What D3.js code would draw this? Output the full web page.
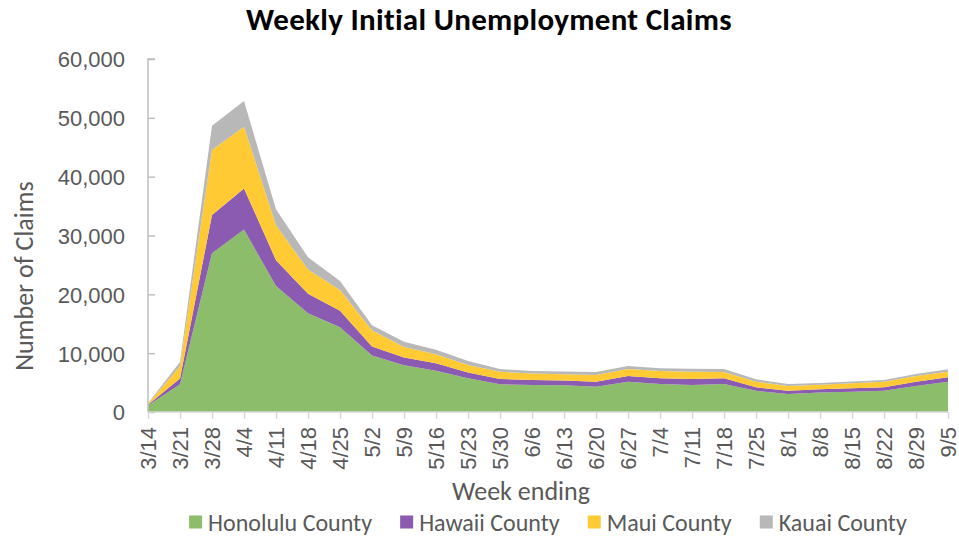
<!DOCTYPE html>
<html lang="en">
<head>
<meta charset="utf-8">
<title>Weekly Initial Unemployment Claims</title>
<script src="https://cdn.jsdelivr.net/npm/d3@7"></script>
<style>
  body { margin: 0; background: #fff; }
  svg { display: block; font-family: Carlito, Calibri, Lato, sans-serif; }
</style>
</head>
<body>
<svg id="chart" width="959" height="536"></svg>
<script>
// week ending dates (category axis)
var weeks = ["3/14","3/21","3/28","4/4","4/11","4/18","4/25","5/2","5/9","5/16","5/23","5/30",
  "6/6","6/13","6/20","6/27","7/4","7/11","7/18","7/25","8/1","8/8","8/15","8/22","8/29","9/5"];

// claims per county
var honolulu = [1100, 4700, 27000, 31000, 21400, 16800, 14400, 9600, 7950, 7000, 5750, 4700,
  4600, 4550, 4300, 5150, 4750, 4600, 4750, 3600, 3050, 3300, 3450, 3600, 4400, 5150];
var hawaii = [120, 1000, 6500, 7000, 4400, 3300, 2800, 1550, 1300, 1300, 950, 900,
  850, 800, 850, 950, 970, 1000, 980, 600, 550, 550, 570, 600, 750, 750];
var maui = [150, 2100, 11050, 10500, 5950, 4100, 3550, 2750, 1800, 1530, 1300, 1250,
  1080, 1080, 1130, 1200, 1250, 1250, 1070, 950, 800, 800, 850, 950, 950, 950];
var kauai = [100, 700, 4100, 4350, 2700, 2100, 1500, 850, 900, 730, 680, 450,
  450, 450, 500, 500, 460, 500, 500, 400, 350, 300, 300, 300, 350, 400];

var countyNames = ["Honolulu County", "Hawaii County", "Maui County", "Kauai County"];
var countyColors = ["#8cbd6a", "#8b5bb1", "#ffca33", "#b8b8b8"];
var yTicks = [0, 10000, 20000, 30000, 40000, 50000, 60000];

var svg = d3.select("#chart");
var textGrey = "#595959";

// build rows for the stack
var keys = ["honolulu", "hawaii", "maui", "kauai"];
var rows = weeks.map(function(w, i) {
  return {week: w, honolulu: honolulu[i], hawaii: hawaii[i], maui: maui[i], kauai: kauai[i]};
});
var series = d3.stack().keys(keys)(rows);

// scales
var x = d3.scalePoint().domain(weeks).range([148, 948]);
var y = d3.scaleLinear().domain([0, 60000]).range([412, 59]);
var color = d3.scaleOrdinal().domain(keys).range(countyColors);

// stacked areas
var area = d3.area()
  .x(function(d) { return x(d.data.week); })
  .y0(function(d) { return y(d[0]); })
  .y1(function(d) { return y(d[1]); });

svg.append("g").selectAll("path")
  .data(series)
  .enter().append("path")
  .attr("d", area)
  .attr("fill", function(d) { return color(d.key); });

// y axis, ticks point inward
var yAxis = svg.append("g")
  .attr("transform", "translate(148,0)")
  .call(d3.axisRight(y).tickValues(yTicks).tickSize(7).tickFormat(""));
yAxis.select(".domain").attr("stroke", "#bfbfbf").attr("stroke-width", 1.5)
  .attr("d", "M7," + y(60000) + "H0V" + y(0));
yAxis.selectAll(".tick line").attr("stroke", "#bfbfbf").attr("stroke-width", 1.5);
yAxis.selectAll(".tick").append("text")
  .attr("x", -23).attr("dy", "0.36em")
  .attr("text-anchor", "end")
  .attr("fill", textGrey)
  .style("font-size", "22px")
  .text(function(d) { return d3.format(",")(d); });

// x axis
var xAxis = svg.append("g")
  .attr("transform", "translate(0,412)")
  .call(d3.axisBottom(x).tickSize(7).tickSizeOuter(0).tickFormat(""));
xAxis.select(".domain").attr("stroke", "#d9d9d9").attr("stroke-width", 1.5)
  .attr("d", "M148,0H948");
xAxis.selectAll(".tick line").attr("stroke", "#d9d9d9").attr("stroke-width", 1.5);
xAxis.selectAll(".tick").append("text")
  .attr("transform", "translate(0,15) rotate(-90)")
  .attr("dy", "0.36em")
  .attr("text-anchor", "end")
  .attr("fill", textGrey)
  .style("font-size", "22px")
  .text(function(d) { return d; });

// title
svg.append("text")
  .attr("x", 489).attr("y", 30)
  .attr("text-anchor", "middle")
  .style("font-size", "31px").style("font-weight", "bold")
  .style("letter-spacing", "0.3px")
  .attr("fill", "#000")
  .text("Weekly Initial Unemployment Claims");

// axis titles
svg.append("text")
  .attr("x", 521).attr("y", 500)
  .attr("text-anchor", "middle")
  .attr("fill", textGrey)
  .style("font-size", "26px")
  .text("Week ending");

svg.append("text")
  .attr("transform", "translate(33,276) rotate(-90)")
  .attr("text-anchor", "middle")
  .attr("fill", textGrey)
  .style("font-size", "26px")
  .text("Number of Claims");

// legend, laid out from measured text widths and centred
var legend = svg.append("g").attr("transform", "translate(0,522)");
var items = legend.selectAll("g").data(keys).enter().append("g");
items.append("rect")
  .attr("width", 13).attr("height", 13).attr("y", -6.5)
  .attr("fill", function(d) { return color(d); });
items.append("text")
  .attr("x", 19).attr("dy", "0.36em")
  .attr("fill", textGrey)
  .style("font-size", "24px")
  .text(function(d, i) { return countyNames[i]; });

var pos = 0, gap = 28, widths = [];
items.each(function() { widths.push(this.getBBox().width); });
var total = d3.sum(widths) + gap * (widths.length - 1);
var start = 548 - total / 2;
items.attr("transform", function(d, i) {
  var tx = start + pos;
  pos += widths[i] + gap;
  return "translate(" + tx + ",0)";
});
</script>
</body>
</html>
